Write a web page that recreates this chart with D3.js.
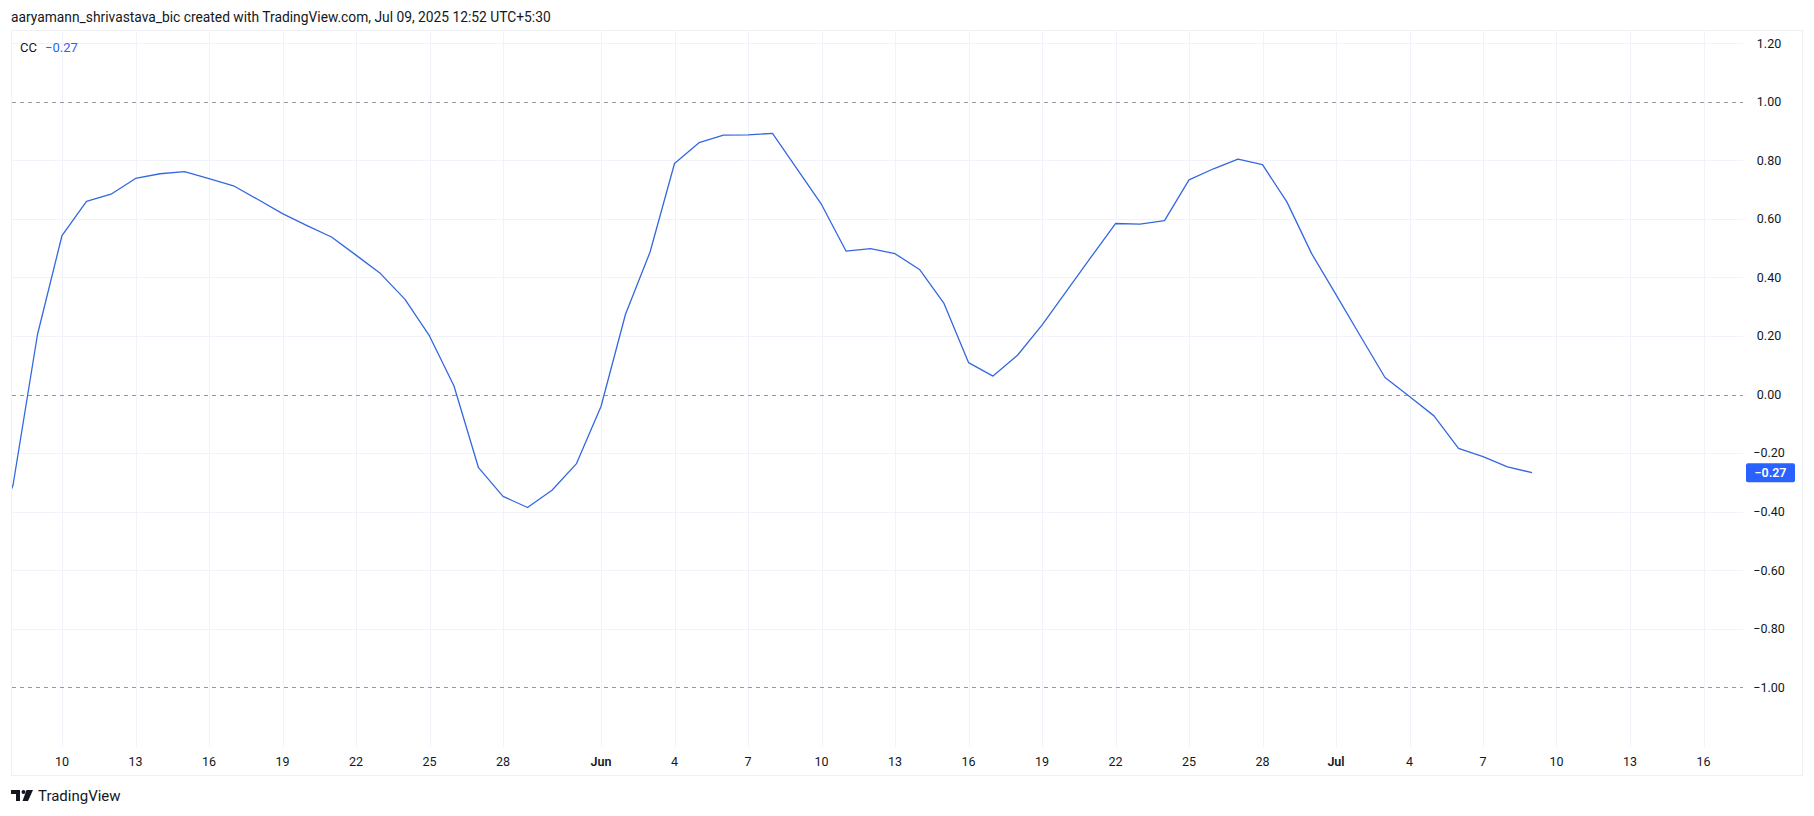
<!DOCTYPE html>
<html>
<head>
<meta charset="utf-8">
<script src="https://cdn.jsdelivr.net/npm/d3@7"></script>
<style>
  html, body { margin: 0; padding: 0; background: #ffffff; }
  svg { display: block; font-family: Roboto, "Liberation Sans", "DejaVu Sans", sans-serif; }
</style>
</head>
<body>
<svg id="chart" width="1814" height="816"></svg>
<script>
// ---------- data ----------
const startDate = "2025-05-07";   // first daily bar (May 7, partly off-screen)
const ccValues = [
  -0.52, -0.31, 0.205, 0.543, 0.660, 0.684, 0.738, 0.754, 0.761, 0.737,
  0.713, 0.666, 0.618, 0.577, 0.538, 0.476, 0.413, 0.325, 0.200, 0.029,
  -0.250, -0.348, -0.386, -0.327, -0.236, -0.041, 0.274, 0.486, 0.789, 0.860,
  0.886, 0.887, 0.892, 0.771, 0.649, 0.490, 0.498, 0.481, 0.427, 0.311,
  0.109, 0.063, 0.134, 0.237, 0.353, 0.469, 0.584, 0.582, 0.594, 0.733,
  0.771, 0.804, 0.785, 0.657, 0.482, 0.341, 0.199, 0.058, -0.007, -0.073,
  -0.184, -0.212, -0.247, -0.267
];
const xTickDates = [
  "2025-05-10","2025-05-13","2025-05-16","2025-05-19","2025-05-22","2025-05-25","2025-05-28",
  "2025-06-01","2025-06-04","2025-06-07","2025-06-10","2025-06-13","2025-06-16","2025-06-19",
  "2025-06-22","2025-06-25","2025-06-28","2025-07-01","2025-07-04","2025-07-07","2025-07-10",
  "2025-07-13","2025-07-16"
];
const xTickLabels = ["10","13","16","19","22","25","28","Jun","4","7","10","13","16","19","22","25","28","Jul","4","7","10","13","16"];
const yTickValues = [1.2, 1.0, 0.8, 0.6, 0.4, 0.2, 0.0, -0.2, -0.4, -0.6, -0.8, -1.0];
const yGridValues = [1.2, 0.8, 0.6, 0.4, 0.2, -0.2, -0.4, -0.6, -0.8];
const dashedLevels = [1.0, 0.0, -1.0];
const lastValueLabel = "−0.27";
const titleText = "aaryamann_shrivastava_bic created with TradingView.com, Jul 09, 2025 12:52 UTC+5:30";
const seriesName = "CC";

// ---------- layout ----------
const frame = { left: 11, top: 30, right: 1803, bottom: 776 };
const plot = { left: 11, top: 30, right: 1743, bottom: 747 };
const lineColor = "#3468e0";
const labelColor = "#2962ff";
const textColor = "#131722";
const gridColor = "#f0f3fa";

const svg = d3.select("#chart");
const parse = d3.utcParse("%Y-%m-%d");
const dayMs = 86400000;
const start = parse(startDate);
const series = ccValues.map((v, i) => ({ date: new Date(start.getTime() + i * dayMs), value: v }));

const x = d3.scaleUtc()
  .domain([parse("2025-05-10"), parse("2025-07-16")])
  .range([62, 62 + 67 * 24.5]);
const y = d3.scaleLinear()
  .domain([-1.204, 1.245])
  .range([plot.bottom, plot.top]);

// title
svg.append("text")
  .attr("x", 11).attr("y", 21.5)
  .attr("font-size", 13.8).attr("fill", textColor)
  .text(titleText);

// frame
svg.append("rect")
  .attr("x", frame.left + 0.5).attr("y", frame.top + 0.5)
  .attr("width", frame.right - frame.left - 1).attr("height", frame.bottom - frame.top - 1)
  .attr("fill", "#ffffff").attr("stroke", "#eef0f4").attr("stroke-width", 1);

// clip
svg.append("clipPath").attr("id", "plotClip")
  .append("rect")
  .attr("x", plot.left + 1).attr("y", plot.top + 1)
  .attr("width", plot.right - plot.left - 1).attr("height", plot.bottom - plot.top - 1);

// vertical grid
svg.append("g").selectAll("line")
  .data(xTickDates)
  .join("line")
  .attr("x1", d => Math.round(x(parse(d))) + 0.5)
  .attr("x2", d => Math.round(x(parse(d))) + 0.5)
  .attr("y1", plot.top + 1).attr("y2", plot.bottom)
  .attr("stroke", gridColor).attr("stroke-width", 1);

// horizontal grid
svg.append("g").selectAll("line")
  .data(yGridValues)
  .join("line")
  .attr("x1", plot.left + 1).attr("x2", plot.right)
  .attr("y1", d => Math.round(y(d)) + 0.5)
  .attr("y2", d => Math.round(y(d)) + 0.5)
  .attr("stroke", gridColor).attr("stroke-width", 1);

// dashed levels
svg.append("g").selectAll("line")
  .data(dashedLevels)
  .join("line")
  .attr("x1", plot.left + 1).attr("x2", plot.right)
  .attr("y1", d => Math.round(y(d)) + 0.5)
  .attr("y2", d => Math.round(y(d)) + 0.5)
  .attr("stroke", "#9598a1").attr("stroke-width", 1)
  .attr("stroke-dasharray", "4 4");

// series line
const line = d3.line().x(d => x(d.date)).y(d => y(d.value));
svg.append("path")
  .datum(series)
  .attr("clip-path", "url(#plotClip)")
  .attr("d", line)
  .attr("fill", "none")
  .attr("stroke", lineColor)
  .attr("stroke-width", 1.3)
  .attr("stroke-linejoin", "round");

// y axis labels
svg.append("g").selectAll("text")
  .data(yTickValues)
  .join("text")
  .attr("x", 1769)
  .attr("y", d => y(d))
  .attr("dy", "0.35em")
  .attr("text-anchor", "middle")
  .attr("font-size", 12.5)
  .attr("fill", textColor)
  .text(d => d3.format(".2f")(d).replace("-", "−"));

// last value label
const lastVal = ccValues[ccValues.length - 1];
svg.append("rect")
  .attr("x", 1746).attr("y", y(lastVal) - 9.5)
  .attr("width", 49).attr("height", 19)
  .attr("rx", 2)
  .attr("fill", labelColor);
svg.append("text")
  .attr("x", 1770.5).attr("y", y(lastVal))
  .attr("dy", "0.35em")
  .attr("text-anchor", "middle")
  .attr("font-size", 12.5)
  .attr("font-weight", 600)
  .attr("fill", "#ffffff")
  .text(lastValueLabel);

// x axis labels
svg.append("g").selectAll("text")
  .data(xTickDates)
  .join("text")
  .attr("x", d => x(parse(d)))
  .attr("y", 762)
  .attr("dy", "0.35em")
  .attr("text-anchor", "middle")
  .attr("font-size", 12.5)
  .attr("font-weight", (d, i) => isNaN(+xTickLabels[i]) ? 600 : 400)
  .attr("fill", textColor)
  .text((d, i) => xTickLabels[i]);

// legend
svg.append("text")
  .attr("x", 20).attr("y", 52)
  .attr("font-size", 13).attr("fill", textColor)
  .text(seriesName);
svg.append("text")
  .attr("x", 45).attr("y", 52)
  .attr("font-size", 13).attr("fill", labelColor)
  .text(lastValueLabel);

// TradingView logo
const logo = svg.append("g").attr("transform", "translate(11,790)").attr("fill", "#131722");
logo.append("path").attr("d", "M0 0 H9 V11 H5 V4 H0 Z");
logo.append("circle").attr("cx", 12.5).attr("cy", 2).attr("r", 2);
logo.append("path").attr("d", "M15.5 0 H22 L17 11 H11.5 Z");
svg.append("text")
  .attr("x", 38).attr("y", 801)
  .attr("font-size", 15).attr("fill", "#131722")
  .text("TradingView");
</script>
</body>
</html>
